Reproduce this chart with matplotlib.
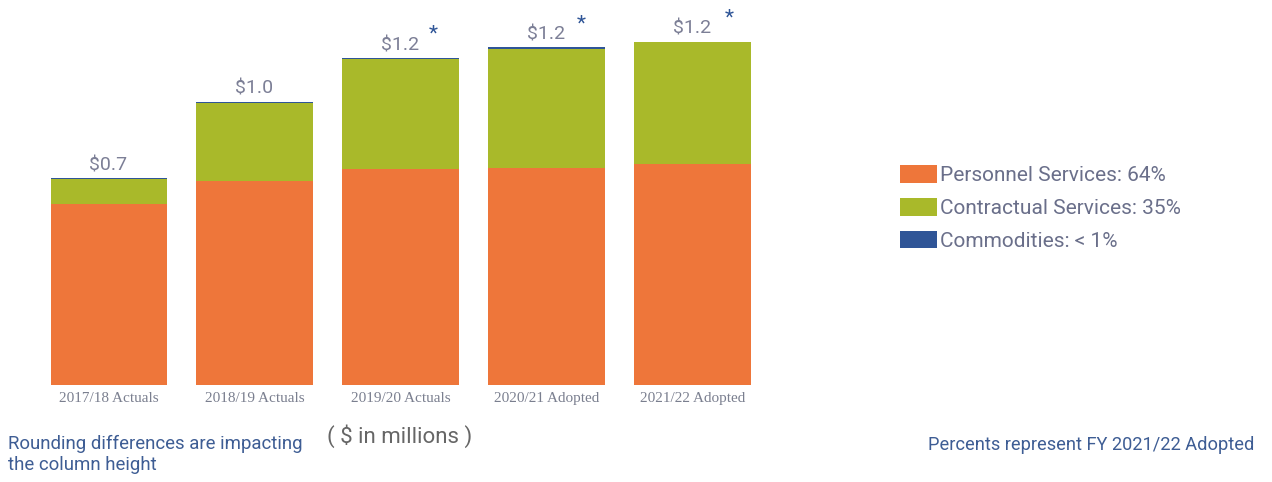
import matplotlib.pyplot as plt
import numpy as np

# budget by category, $ millions
years = ['2017/18 Actuals', '2018/19 Actuals', '2019/20 Actuals',
         '2020/21 Adopted', '2021/22 Adopted']
personnel = [0.640, 0.721, 0.763, 0.767, 0.781]
contractual = [0.087, 0.275, 0.388, 0.421, 0.429]
commodities = [0.004, 0.004, 0.004, 0.005, 0.002]
total_labels = ['$0.7', '$1.0', '$1.2', '$1.2', '$1.2']
starred = [False, False, True, True, True]

legend_labels = ['Personnel Services: 64%', 'Contractual Services: 35%',
                 'Commodities: < 1%']

c_pers = '#ee763a'
c_cont = '#a9b92a'
c_comm = '#2f5597'
label_col = '#7c7f96'
note_col = '#3e5d94'

plt.rcParams['font.family'] = ['Roboto', 'DejaVu Sans']

fig = plt.figure(figsize=(12.72, 4.82), dpi=100)
W, H = 1272, 482
# axes spans x 30..770 px, y 0..385 px from top
ax = fig.add_axes([30 / W, 1 - 385 / H, 740 / W, 385 / H])

x = np.arange(len(years))
w = 0.795
pers = np.array(personnel)
cont = np.array(contractual)
comm = np.array(commodities)

b1 = ax.bar(x, pers, w, color=c_pers, linewidth=0)
b2 = ax.bar(x, cont, w, bottom=pers, color=c_cont, linewidth=0)
b3 = ax.bar(x, comm, w, bottom=pers + cont, color=c_comm, linewidth=0)

tops = pers + cont + comm
for i in range(len(x)):
    ax.annotate(total_labels[i], (x[i], tops[i]), xytext=(0, 4),
                textcoords='offset pixels', ha='center', va='bottom',
                fontsize=14, color=label_col)
    if starred[i]:
        ax.annotate('*', (x[i], tops[i]), xytext=(33 + 2 * (i - 2), 14),
                    textcoords='offset pixels', ha='center', va='bottom',
                    fontsize=15, color=c_comm)

ax.set_xlim(-0.538, 4.531)
ax.set_ylim(0, 1.36)
ax.set_xticks(x)
ax.set_xticklabels(years, family=['Liberation Serif'], fontsize=11,
                   color='#7a7f8f')
ax.tick_params(axis='x', length=0, pad=5)
ax.set_yticks([])
for s in ax.spines.values():
    s.set_visible(False)

fig.text(400 / W, 1 - 436 / H, '( $ in millions )', ha='center', va='center',
         fontsize=16, color='#666666')

fig.text(8 / W, 1 - 435 / H, 'Rounding differences are impacting\nthe column height',
         ha='left', va='top', fontsize=13.4, color=note_col, linespacing=1.22)
fig.text(1254 / W, 1 - 445 / H, 'Percents represent FY 2021/22 Adopted',
         ha='right', va='center', fontsize=13.15, color=note_col)

fig.legend([b1, b2, b3], legend_labels, loc='center left',
           bbox_to_anchor=(900 / W, 1 - 208 / H), frameon=False,
           fontsize=15, labelcolor='#6a6f8a', handlelength=1.78,
           handleheight=0.92, labelspacing=0.62, handletextpad=0.15,
           borderpad=0, borderaxespad=0)

fig.savefig('out.png', dpi=100)
